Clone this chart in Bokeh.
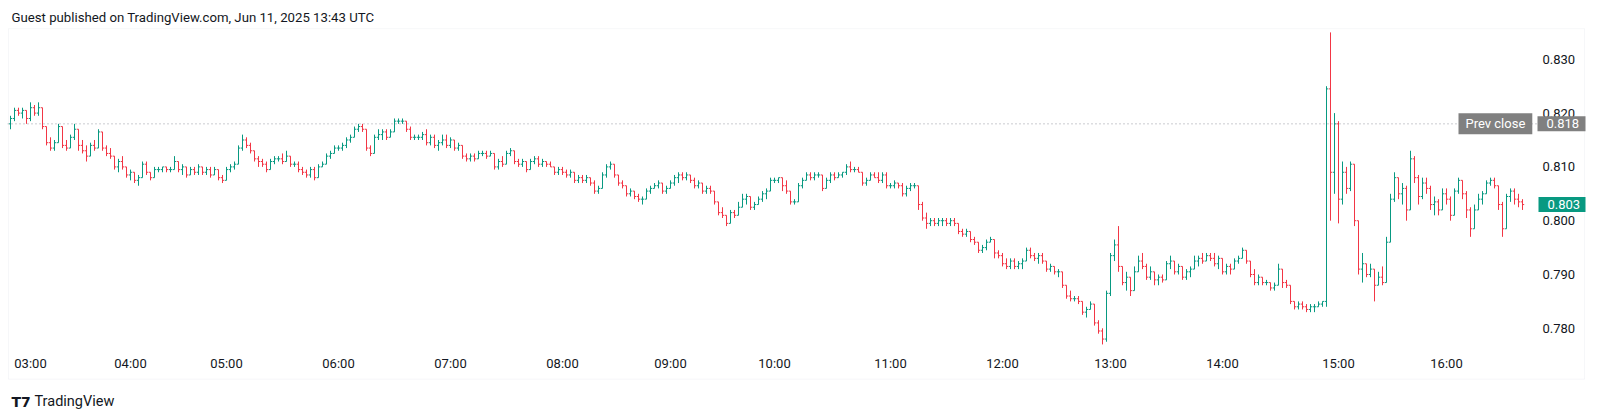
from bokeh.plotting import figure
from bokeh.models import (Range1d, FixedTicker, NumeralTickFormatter, Span, Label,
                          BoxAnnotation, ColumnDataSource)
from bokeh.embed import file_html
from bokeh.resources import INLINE

# ---------------- data (prices in units of 0.0001) ----------------
opens = [
8180,8190,8205,8200,8205,8190,8210,8200,8210,8175,
8145,8135,8145,8175,8140,8135,8155,8170,8140,8130,
8120,8140,8135,8165,8135,8125,8120,8100,8110,8100,
8085,8090,8075,8080,8105,8090,8080,8095,8095,8100,
8095,8095,8110,8095,8100,8085,8095,8090,8100,8090,
8095,8085,8095,8080,8075,8095,8100,8105,8135,8150,
8140,8130,8115,8110,8105,8095,8110,8115,8115,8110,
8120,8105,8105,8095,8090,8085,8095,8080,8100,8105,
8120,8125,8135,8135,8140,8150,8155,8170,8175,8170,
8135,8125,8155,8160,8165,8155,8165,8185,8185,8185,
8170,8155,8155,8155,8160,8145,8155,8140,8145,8150,
8140,8150,8135,8140,8120,8115,8120,8115,8125,8125,
8120,8125,8100,8110,8105,8125,8130,8110,8105,8110,
8095,8110,8115,8105,8110,8105,8100,8090,8095,8090,
8085,8090,8075,8080,8075,8080,8070,8055,8060,8085,
8100,8105,8085,8070,8065,8050,8055,8045,8040,8040,
8055,8060,8065,8070,8055,8060,8070,8080,8085,8080,
8085,8075,8065,8070,8055,8060,8055,8035,8015,8010,
7995,8015,8010,8025,8040,8045,8025,8030,8040,8050,
8055,8075,8075,8080,8065,8055,8035,8035,8065,8075,
8085,8080,8085,8085,8060,8075,8085,8080,8085,8090,
8100,8095,8095,8090,8070,8075,8085,8080,8075,8085,
8065,8065,8070,8065,8050,8060,8065,8065,8030,8005,
7995,8000,7995,8000,8000,7995,8000,7995,7980,7975,
7980,7965,7960,7945,7950,7960,7965,7940,7935,7920,
7915,7925,7915,7920,7925,7945,7935,7930,7935,7925,
7910,7915,7905,7905,7880,7860,7855,7855,7850,7830,
7835,7845,7810,7795,7780,7865,7935,7955,7915,7885,
7895,7870,7905,7925,7915,7895,7905,7890,7895,7890,
7920,7925,7905,7915,7895,7905,7910,7925,7930,7925,
7935,7930,7920,7930,7905,7915,7910,7925,7930,7945,
7925,7900,7885,7895,7885,7885,7875,7880,7910,7885,
7880,7850,7840,7845,7840,7835,7840,7840,7845,7850,
8245,8090,8180,8040,8090,8060,8105,8000,7910,7920,
7900,7910,7880,7895,7885,7960,8040,8080,8050,8060,
8020,8115,8080,8045,8070,8060,8030,8035,8020,8050,
8040,8010,8055,8075,8050,8020,7985,8020,8040,8050,
8070,8075,8065,8030,7985,8045,8055,8040,8035]

highs = [
8195,8210,8210,8210,8205,8220,8215,8220,8210,8175,
8155,8150,8180,8175,8150,8160,8180,8170,8150,8140,
8145,8150,8170,8165,8140,8135,8120,8115,8120,8100,
8095,8090,8085,8110,8110,8090,8100,8100,8100,8100,
8100,8120,8110,8105,8100,8100,8100,8105,8100,8100,
8100,8100,8095,8085,8100,8105,8110,8140,8160,8155,
8145,8130,8120,8115,8110,8115,8120,8120,8125,8130,
8120,8110,8110,8100,8095,8100,8100,8105,8110,8125,
8130,8140,8140,8145,8155,8160,8175,8180,8180,8170,
8140,8160,8170,8170,8170,8170,8190,8190,8190,8185,
8175,8160,8160,8165,8170,8160,8160,8150,8160,8160,
8155,8150,8145,8140,8125,8125,8125,8130,8130,8130,
8130,8125,8115,8120,8130,8135,8130,8115,8115,8110,
8115,8120,8120,8115,8110,8110,8100,8100,8100,8095,
8095,8090,8085,8085,8085,8080,8075,8065,8090,8105,
8110,8105,8085,8075,8065,8060,8055,8050,8045,8060,
8065,8070,8075,8070,8065,8075,8085,8090,8090,8090,
8085,8080,8075,8070,8065,8065,8055,8035,8025,8010,
8020,8020,8035,8050,8050,8045,8035,8045,8055,8060,
8080,8080,8080,8080,8075,8055,8040,8070,8080,8090,
8090,8090,8090,8085,8080,8090,8090,8090,8090,8105,
8110,8100,8100,8090,8080,8090,8090,8090,8090,8090,
8070,8075,8070,8070,8065,8070,8070,8065,8035,8015,
8005,8005,8005,8005,8005,8005,8005,7995,7985,7985,
7980,7970,7960,7955,7965,7970,7965,7945,7940,7930,
7930,7930,7925,7930,7950,7950,7940,7940,7940,7925,
7920,7915,7910,7905,7880,7870,7860,7860,7850,7840,
7850,7845,7815,7800,7870,7940,7965,7990,7915,7905,
7895,7915,7935,7940,7920,7915,7905,7900,7900,7925,
7935,7925,7920,7915,7910,7915,7935,7935,7940,7940,
7940,7940,7935,7930,7920,7920,7930,7935,7950,7945,
7925,7910,7900,7895,7890,7885,7885,7920,7910,7890,
7880,7850,7850,7850,7845,7845,7845,7850,7850,8250,
8350,8200,8185,8110,8100,8110,8105,8000,7940,7920,
7920,7910,7905,7915,7970,8050,8090,8080,8070,8065,
8130,8120,8085,8080,8080,8065,8045,8040,8060,8060,
8045,8060,8080,8075,8055,8025,8030,8050,8055,8075,
8080,8080,8065,8035,8050,8060,8060,8050,8040]

lows = [
8170,8185,8195,8190,8180,8185,8195,8195,8170,8140,
8130,8130,8145,8135,8130,8135,8150,8130,8125,8110,
8120,8130,8135,8130,8120,8115,8095,8090,8095,8080,
8075,8070,8065,8080,8085,8075,8080,8090,8090,8090,
8090,8095,8090,8085,8080,8085,8085,8085,8085,8085,
8080,8085,8075,8070,8075,8090,8095,8105,8130,8135,
8125,8110,8100,8100,8090,8095,8105,8110,8105,8110,
8100,8100,8090,8085,8080,8080,8075,8080,8100,8105,
8115,8125,8130,8130,8135,8145,8155,8165,8165,8130,
8120,8125,8150,8150,8150,8155,8165,8180,8180,8165,
8150,8150,8150,8150,8140,8140,8135,8130,8140,8135,
8135,8130,8130,8115,8110,8110,8110,8115,8120,8115,
8120,8095,8095,8100,8105,8120,8105,8100,8100,8090,
8095,8105,8100,8100,8100,8100,8085,8085,8085,8080,
8080,8070,8070,8070,8070,8065,8050,8050,8060,8080,
8095,8080,8065,8060,8045,8045,8040,8035,8030,8040,
8050,8060,8060,8050,8050,8060,8065,8070,8075,8075,
8070,8060,8060,8050,8050,8050,8030,8010,8005,7990,
7995,8005,8010,8025,8030,8020,8020,8030,8035,8040,
8055,8070,8070,8055,8050,8030,8030,8035,8060,8075,
8075,8075,8080,8055,8060,8070,8075,8080,8080,8085,
8090,8090,8090,8065,8065,8075,8080,8070,8070,8060,
8060,8060,8060,8045,8045,8055,8060,8020,8000,7985,
7990,7990,7990,7990,7990,7990,7990,7975,7970,7970,
7960,7955,7940,7940,7945,7960,7930,7930,7915,7910,
7910,7910,7910,7910,7925,7930,7925,7920,7920,7905,
7905,7900,7895,7875,7855,7850,7850,7845,7825,7820,
7835,7805,7790,7770,7775,7860,7925,7905,7880,7870,
7860,7870,7905,7910,7890,7890,7880,7880,7885,7890,
7910,7900,7900,7890,7890,7895,7910,7915,7920,7925,
7925,7915,7910,7900,7900,7900,7910,7920,7930,7920,
7895,7880,7880,7880,7880,7870,7870,7880,7875,7875,
7845,7835,7835,7835,7830,7830,7830,7840,7840,7840,
8000,8050,7995,8030,8050,8055,7990,7900,7885,7895,
7895,7850,7880,7880,7885,7960,8035,8040,8030,8000,
8020,8070,8030,8040,8050,8020,8010,8010,8020,8030,
8000,8010,8050,8040,8005,7970,7985,8020,8030,8050,
8065,8060,8020,7970,7985,8035,8030,8025,8020]

closes = [
8190,8205,8200,8205,8190,8210,8200,8210,8175,8145,
8135,8145,8175,8140,8135,8155,8170,8140,8130,8120,
8140,8135,8165,8135,8125,8120,8100,8110,8100,8085,
8090,8075,8080,8105,8090,8080,8095,8095,8100,8095,
8095,8110,8095,8100,8085,8095,8090,8100,8090,8095,
8085,8095,8080,8075,8095,8100,8105,8135,8150,8140,
8130,8115,8110,8105,8095,8110,8115,8115,8110,8120,
8105,8105,8095,8090,8085,8095,8080,8100,8105,8120,
8125,8135,8135,8140,8150,8155,8170,8175,8170,8135,
8125,8155,8160,8165,8155,8165,8185,8185,8185,8170,
8155,8155,8155,8160,8145,8155,8140,8145,8150,8140,
8150,8135,8140,8120,8115,8120,8115,8125,8125,8120,
8125,8100,8110,8105,8125,8130,8110,8105,8110,8095,
8110,8115,8105,8110,8105,8100,8090,8095,8090,8085,
8090,8075,8080,8075,8080,8070,8055,8060,8085,8100,
8105,8085,8070,8065,8050,8055,8045,8040,8040,8055,
8060,8065,8070,8055,8060,8070,8080,8085,8080,8085,
8075,8065,8070,8055,8060,8055,8035,8015,8010,7995,
8015,8010,8025,8040,8045,8025,8030,8040,8050,8055,
8075,8075,8080,8065,8055,8035,8035,8065,8075,8085,
8080,8085,8085,8060,8075,8085,8080,8085,8090,8100,
8095,8095,8090,8070,8075,8085,8080,8075,8085,8065,
8065,8070,8065,8050,8060,8065,8065,8030,8005,7995,
8000,7995,8000,8000,7995,8000,7995,7980,7975,7980,
7965,7960,7945,7950,7960,7965,7940,7935,7920,7915,
7925,7915,7920,7925,7945,7935,7930,7935,7925,7910,
7915,7905,7905,7880,7860,7855,7855,7850,7830,7835,
7845,7810,7795,7780,7865,7935,7955,7915,7885,7895,
7870,7905,7925,7915,7895,7905,7890,7895,7890,7920,
7925,7905,7915,7895,7905,7910,7925,7930,7925,7935,
7930,7920,7930,7905,7915,7910,7925,7930,7945,7925,
7900,7885,7895,7885,7885,7875,7880,7910,7885,7880,
7850,7840,7845,7840,7835,7840,7840,7845,7850,8245,
8090,8180,8040,8090,8060,8105,8000,7910,7920,7900,
7910,7880,7895,7885,7960,8040,8080,8050,8060,8020,
8115,8080,8045,8070,8060,8030,8035,8020,8050,8040,
8010,8055,8075,8050,8020,7985,8020,8040,8050,8070,
8075,8065,8030,7985,8045,8055,8040,8035,8030]

tick_bars = [5, 30, 54, 82, 110, 138, 165, 191, 220, 248, 275, 303, 332, 359]
tick_labels = ["03:00", "04:00", "05:00", "06:00", "07:00", "08:00", "09:00",
               "10:00", "11:00", "12:00", "13:00", "14:00", "15:00", "16:00"]
price_ticks = [0.78, 0.79, 0.80, 0.81, 0.82, 0.83]
prev_close = 0.818
last_price = 0.803

# ---------------- styling ----------------
UP = "#089981"
DOWN = "#f23645"
TXT = "#131722"
FONT = "Roboto"
SCALE = 10000.0

n = len(closes)
idx = list(range(n))
o = [v / SCALE for v in opens]
h = [v / SCALE for v in highs]
l = [v / SCALE for v in lows]
c = [v / SCALE for v in closes]
col = [UP if cc >= oo else DOWN for oo, cc in zip(opens, closes)]

src = ColumnDataSource(dict(
    x=idx, xl=[i - 0.42 for i in idx], xr=[i + 0.42 for i in idx],
    o=o, h=h, l=l, c=c, color=col))

# frame spans the whole TradingView chart box (incl. price and time scales)
X0, X1 = -0.75, 393.75
Y0, Y1 = 0.764721, 0.836468
PRICE_SCALE_X = 380.25      # where the price scale begins (bar-index units)
TIME_SCALE_Y = 0.776989     # where the time scale begins (price units)

p = figure(width=1588, height=410,
           x_range=Range1d(X0, X1), y_range=Range1d(Y0, Y1),
           output_backend="svg", toolbar_location=None,
           y_axis_location="right",
           min_border_left=7, min_border_right=3, min_border_top=24,
           min_border_bottom=0)
p.background_fill_color = "white"
p.border_fill_color = "white"
p.outline_line_color = None
p.xgrid.visible = False
p.ygrid.visible = False

# title
p.title.text = "Guest published on TradingView.com, Jun 11, 2025 13:43 UTC"
p.title.text_font = FONT
p.title.text_font_size = "13.2px"
p.title.text_font_style = "normal"
p.title.text_color = TXT
p.title.standoff = 0
p.title.offset = 4

# chart box border
p.add_layout(BoxAnnotation(left=-0.5, right=393.5, top=0.835688, bottom=0.770539,
                           fill_alpha=0, line_color="#e0e3eb", line_width=1))

# prev close line
p.add_layout(Span(location=prev_close, dimension="width", line_color="#9598a1",
                  line_width=1, line_dash="1 3"))

# OHLC bars
p.segment(x0="x", y0="l", x1="x", y1="h", line_color="color", line_width=1, source=src)
p.segment(x0="xl", y0="o", x1="x", y1="o", line_color="color", line_width=1, source=src)
p.segment(x0="x", y0="c", x1="xr", y1="c", line_color="color", line_width=1, source=src)

# axes (drawn at fixed locations inside the chart box)
xa = p.xaxis[0]
xa.fixed_location = TIME_SCALE_Y
xa.ticker = FixedTicker(ticks=tick_bars)
xa.major_label_overrides = {t: s for t, s in zip(tick_bars, tick_labels)}
xa.axis_line_color = None
xa.major_tick_line_color = None
xa.minor_tick_line_color = None
xa.major_label_standoff = 6
xa.major_label_text_font = FONT
xa.major_label_text_font_size = "13px"
xa.major_label_text_color = TXT

ya = p.yaxis[0]
ya.fixed_location = PRICE_SCALE_X
ya.ticker = FixedTicker(ticks=price_ticks)
ya.formatter = NumeralTickFormatter(format="0.000")
ya.axis_line_color = None
ya.major_tick_line_color = None
ya.minor_tick_line_color = None
ya.major_label_standoff = 5
ya.major_label_text_font = FONT
ya.major_label_text_font_size = "13px"
ya.major_label_text_color = TXT

# price labels on the price scale
p.add_layout(Label(x=1451, y=prev_close, x_units="screen", y_units="data",
                   text="Prev close", text_font=FONT, text_font_size="13px",
                   text_color="white", text_baseline="middle",
                   background_fill_color="#808080", padding=(7, 3)))
p.add_layout(Label(x=1530, y=prev_close, x_units="screen", y_units="data",
                   text="%.3f" % prev_close, text_font=FONT, text_font_size="13px",
                   text_color="white", text_baseline="middle",
                   background_fill_color="#808080", padding=(9, 3)))
p.add_layout(Label(x=1531, y=last_price, x_units="screen", y_units="data",
                   text="%.3f" % last_price, text_font=FONT, text_font_size="13px",
                   text_color="white", text_baseline="middle",
                   background_fill_color=UP, padding=(9, 3)))

# logo
p.add_layout(Label(x=4, y=9, x_units="screen", y_units="screen", text="T7",
                   text_font="DejaVu Sans", text_font_size="14px",
                   text_font_style="bold", text_color=TXT, text_baseline="middle"))
p.add_layout(Label(x=27, y=9, x_units="screen", y_units="screen", text="TradingView",
                   text_font=FONT, text_font_size="14.5px", text_color=TXT,
                   text_baseline="middle"))

open("out.html", "w").write(file_html(p, INLINE))
